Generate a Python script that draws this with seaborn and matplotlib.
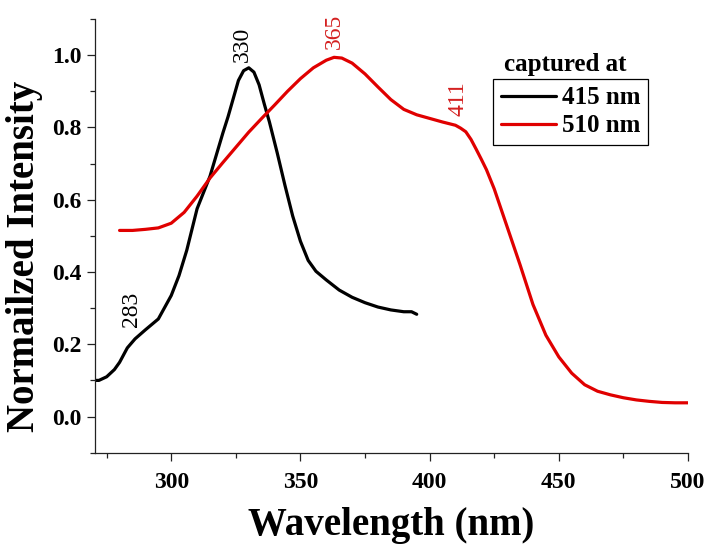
import numpy as np
import pandas as pd
import matplotlib
matplotlib.use("Agg")
import matplotlib.pyplot as plt
import seaborn as sns

# ---- data ----
wl_415 = [270, 272, 275, 278, 280, 283, 286, 290, 295, 300, 303, 306, 310, 315, 320,
          322, 324, 326, 328, 330, 332, 334, 336, 338, 341, 344, 347, 350, 353, 356,
          360, 365, 370, 375, 380, 385, 390, 393, 395]
int_415 = [0.100, 0.100, 0.110, 0.130, 0.150, 0.190, 0.215, 0.240, 0.270, 0.335, 0.390,
           0.460, 0.575, 0.665, 0.785, 0.830, 0.880, 0.930, 0.957, 0.965, 0.953, 0.918,
           0.865, 0.815, 0.730, 0.640, 0.555, 0.485, 0.432, 0.402, 0.378, 0.350, 0.330,
           0.315, 0.303, 0.295, 0.290, 0.290, 0.283]

wl_510 = [280, 285, 290, 295, 300, 305, 310, 315, 320, 325, 330, 335, 340, 345, 350,
          355, 360, 363, 366, 370, 375, 380, 385, 390, 395, 400, 405, 410, 412, 414,
          416, 418, 420, 422, 425, 430, 435, 440, 445, 450, 455, 460, 465, 470, 475,
          480, 485, 490, 495, 500]
int_510 = [0.515, 0.515, 0.518, 0.522, 0.535, 0.565, 0.610, 0.660, 0.703, 0.745, 0.787,
           0.825, 0.862, 0.900, 0.935, 0.965, 0.986, 0.994, 0.992, 0.978, 0.948, 0.912,
           0.877, 0.850, 0.835, 0.825, 0.815, 0.806, 0.798, 0.788, 0.767, 0.740, 0.712,
           0.683, 0.630, 0.525, 0.420, 0.310, 0.225, 0.165, 0.120, 0.088, 0.070, 0.060,
           0.052, 0.046, 0.042, 0.039, 0.038, 0.038]

series_labels = ["415 nm", "510 nm"]
series_colors = ["black", "#e00000"]

peak_labels = ["283", "330", "365", "411"]
peak_x = [284.5, 327.5, 363, 411]
peak_y = [0.247, 0.981, 1.018, 0.832]
peak_colors = ["black", "black", "#d42020", "#d42020"]

x_ticks = [300, 350, 400, 450, 500]
y_ticks = [0.0, 0.2, 0.4, 0.6, 0.8, 1.0]

df = pd.concat([
    pd.DataFrame({"Wavelength": wl_415, "Intensity": int_415, "series": series_labels[0]}),
    pd.DataFrame({"Wavelength": wl_510, "Intensity": int_510, "series": series_labels[1]}),
], ignore_index=True)

sns.set_style("ticks")
plt.rcParams["font.family"] = ["Liberation Serif", "DejaVu Serif"]
plt.rcParams["text.color"] = "black"
plt.rcParams["axes.labelcolor"] = "black"
plt.rcParams["xtick.color"] = "black"
plt.rcParams["ytick.color"] = "black"

fig = plt.figure(figsize=(7.06, 5.45), dpi=100)
ax = fig.add_axes([0.1346, 0.1694, 0.8399, 0.7957])

sns.lineplot(data=df, x="Wavelength", y="Intensity", hue="series",
             palette=dict(zip(series_labels, series_colors)),
             linewidth=2.3, sort=False, estimator=None, ax=ax, legend=True)
for line in ax.get_lines():
    line.set_solid_joinstyle("round")

ax.set_xlim(270.5, 500)
ax.set_ylim(-0.1, 1.1)
ax.set_xticks(x_ticks)
ax.set_xticklabels([str(t) for t in x_ticks])
ax.set_yticks(y_ticks)
ax.set_yticklabels([f"{t:.1f}" for t in y_ticks])
ax.set_xticks([275, 325, 375, 425, 475], minor=True)
ax.set_yticks([-0.1, 0.1, 0.3, 0.5, 0.7, 0.9, 1.1], minor=True)
ax.tick_params(axis="both", which="major", direction="out", length=6, width=0.9,
               labelsize=17, color="#222222", labelcolor="black")
ax.tick_params(axis="x", which="major", pad=8)
ax.tick_params(axis="both", which="minor", direction="out", length=3.5, width=0.9,
               color="#222222")
for lab in ax.get_xticklabels() + ax.get_yticklabels():
    lab.set_fontweight("bold")

for s in ["top", "right"]:
    ax.spines[s].set_visible(False)
for s in ["left", "bottom"]:
    ax.spines[s].set_linewidth(0.9)
    ax.spines[s].set_color("#222222")

ax.set_xlabel("Wavelength (nm)", fontsize=28, fontweight="bold", labelpad=10,
              color="black")
ax.set_ylabel("Normailzed Intensity", fontsize=28, fontweight="bold", color="black")
ax.yaxis.set_label_coords(-0.0877, 0.4535)

for lab, x, y, c in zip(peak_labels, peak_x, peak_y, peak_colors):
    ax.text(x, y, lab, rotation=90, ha="center", va="bottom", fontsize=17, color=c)

handles, labels = ax.get_legend_handles_labels()
leg = ax.legend(handles, labels, loc="upper left", bbox_to_anchor=(0.6717, 0.8617),
                borderaxespad=0, frameon=True, fancybox=False, edgecolor="black",
                framealpha=1, prop={"weight": "bold", "size": 18}, handlelength=2.2,
                handletextpad=0.25, borderpad=0.3, labelspacing=0.2)
leg.get_frame().set_linewidth(0.9)
for line in leg.get_lines():
    line.set_linewidth(2.3)
for t in leg.get_texts():
    t.set_color("black")

fig.text(565 / 706, 1 - 65 / 545, "captured at", ha="center", va="center",
         fontsize=18, fontweight="bold", color="black")

fig.savefig("out.png", dpi=100)
